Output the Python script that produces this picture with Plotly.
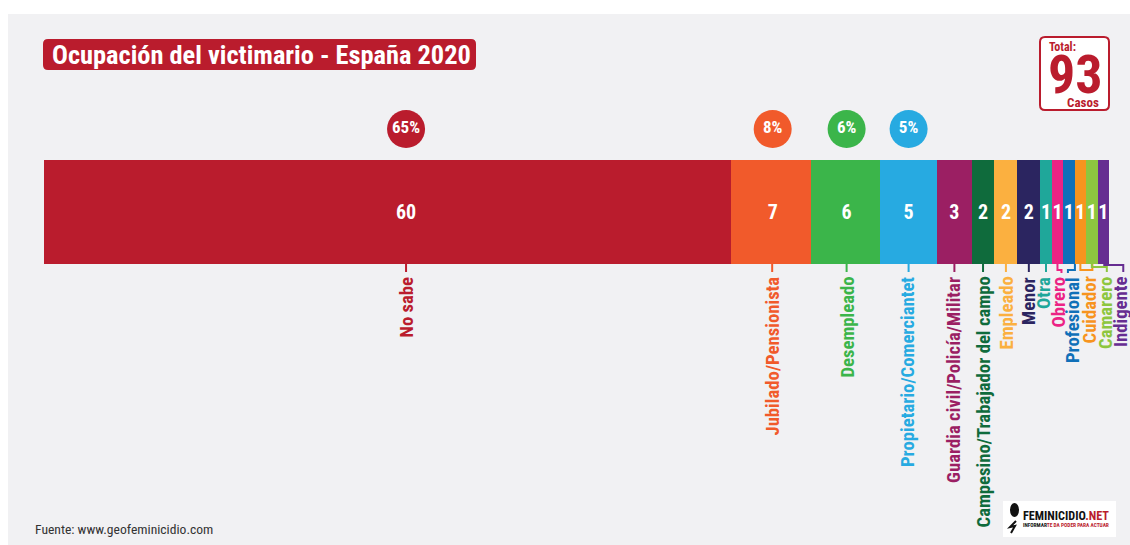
import plotly.graph_objects as go

W, H = 1130, 545
FONT = "Roboto Condensed, Roboto"

categories = ["No sabe", "Jubilado/Pensionista", "Desempleado", "Propietario/Comerciantet",
              "Guardia civil/Policía/Militar", "Campesino/Trabajador del campo", "Empleado",
              "Menor", "Otra", "Obrero", "Profesional", "Cuidador", "Camarero", "Indigente"]
values = [60, 7, 6, 5, 3, 2, 2, 2, 1, 1, 1, 1, 1, 1]
percents = ["65%", "8%", "6%", "5%"]
colors = ["#BA1C2D", "#F15A2B", "#3BB54A", "#27AAE1", "#9B1F63", "#0F6B3C", "#FBB040",
          "#2B2560", "#1FA79A", "#EC2384", "#1070B8", "#F7941E", "#8DC63F", "#662D91"]
label_x = [406, 772, 847, 908, 954, 983, 1006, 1029, 1044, 1058, 1073, 1089, 1106, 1121]
text_shift = [18.5, 1.5, 1, 0, 0, 0, 0, 0, 0, 0, 0, 0, 0, 0]
# leader waypoints, relative to bar centre (px) / below the bar (px)
leaders = [[(18.5, 0), (18.5, 8)], [(1, 0), (1, 8)], [(1, 0), (1, 8)], [(0, 0), (0, 8)],
           [(0, 0), (0, 8)], [(0, 0), (0, 8)], [(0, 0), (0, 8)], [(0, 0), (0, 8)],
           [(0, 0), (0, 8)], [(0, 0), (0, 6), (4, 6), (4, 9)],
           [(6, 0), (6, 6), (-1, 6), (-1, 9)], [(0, 0), (0, 6), (12, 6), (12, 0)],
           [(0, 0), (0, 3), (15, 3), (15, 8)], [(0, 1), (20, 1), (20, 8)]]

BAR_L, BAR_R, BAR_T, BAR_B = 44, 1109, 160, 264
scale = (BAR_R - BAR_L) / sum(values)

def fx(px): return px / W
def fy(py): return 1 - py / H

def rrect(x0, y0, x1, y1, r):
    a, b, c, d = fx(x0), fy(y0), fx(x1), fy(y1)
    rx, ry = r / W, r / H
    return (f"M{a+rx},{b} L{c-rx},{b} Q{c},{b} {c},{b-ry} L{c},{d+ry} Q{c},{d} {c-rx},{d} "
            f"L{a+rx},{d} Q{a},{d} {a},{d+ry} L{a},{b-ry} Q{a},{b} {a+rx},{b} Z")

centers, acc = [], 0
for v in values:
    centers.append(acc + v / 2)
    acc += v
text_x = [c + s / scale for c, s in zip(centers, text_shift)]

fig = go.Figure()
for name, v, c in zip(categories, values, colors):
    fig.add_trace(go.Bar(x=[v], y=[0], name=name, orientation="h", marker=dict(color=c, line_width=0),
                         width=1, hoverinfo="name+x"))
fig.add_trace(go.Scatter(x=text_x, y=[-0.02] * len(values), mode="text", text=[str(v) for v in values],
                         textfont=dict(family=FONT, size=20, color="white", weight="bold"),
                         textposition="middle center", hoverinfo="skip"))
n = len(percents)
fig.add_trace(go.Scatter(x=[text_x[i] for i in range(n)], y=[0] * n, yaxis="y2", mode="markers+text",
                         marker=dict(size=38, color=colors[:n], line_width=0), text=percents,
                         textfont=dict(family=FONT, size=17, color="white", weight="bold"),
                         textposition="middle center", hoverinfo="skip"))

shapes = [dict(type="rect", xref="paper", yref="paper", x0=fx(8), x1=1, y0=0, y1=fy(14),
               fillcolor="#F1F1F3", line_width=0, layer="below"),
          dict(type="path", xref="paper", yref="paper", path=rrect(43, 39, 476, 70, 5),
               fillcolor="#BA1C2D", line_width=0, layer="below"),
          dict(type="path", xref="paper", yref="paper", path=rrect(1040, 37, 1109, 110, 5),
               fillcolor="white", line=dict(color="#BA1C2D", width=2), layer="below"),
          dict(type="rect", xref="paper", yref="paper", x0=fx(1003), x1=fx(1116), y0=fy(537), y1=fy(501),
               fillcolor="white", line_width=0, layer="below"),
          dict(type="circle", xref="paper", yref="paper", x0=fx(1010), x1=fx(1019), y0=fy(517), y1=fy(503),
               fillcolor="#111111", line_width=0),
          dict(type="path", xref="paper", yref="paper",
               path=f"M{fx(1016)},{fy(521)} L{fx(1010)},{fy(527)} L{fx(1015)},{fy(526)} L{fx(1011)},{fy(533)}",
               line=dict(color="#111111", width=2))]
for i, pts in enumerate(leaders):
    path = ""
    for j, (dx, dy) in enumerate(pts):
        path += f"{'M' if j == 0 else 'L'}{(centers[i] * scale + BAR_L + dx) / W},{fy(BAR_B + dy)} "
    shapes.append(dict(type="path", xref="paper", yref="paper", path=path,
                       line=dict(color=colors[i], width=2), layer="above"))

annotations = []
for name, lx, c in zip(categories, label_x, colors):
    annotations.append(dict(xref="paper", yref="paper", x=fx(lx), y=fy(275), text=name, textangle=-90,
                            showarrow=False, xanchor="center", yanchor="top",
                            font=dict(family=FONT, size=18.7, color=c, weight="bold")))

def note(x, y, text, size, color, xanchor="center", bold=True, family=FONT):
    annotations.append(dict(xref="paper", yref="paper", x=fx(x), y=fy(y), text=text, showarrow=False,
                            xanchor=xanchor, yanchor="middle",
                            font=dict(family=family, size=size, color=color, weight="bold" if bold else "normal")))

note(261, 55, "Ocupación del victimario - España 2020", 26.4, "white")
note(1047, 47, "Total:", 12, "#BA1C2D", "left")
note(1075, 74, "93", 54, "#BA1C2D")
note(1101, 102, "Casos", 13, "#BA1C2D", "right")
note(33, 529, "Fuente: www.geofeminicidio.com", 13.6, "#333333", "left", False)
note(1021, 516, 'FEMINICIDIO<span style="color:#BA1C2D">.NET</span>', 12.2, "#111111", "left")
note(1021, 525, 'INFORMAR<span style="color:#BA1C2D">TE DA PODER PARA ACTUAR</span>', 5.4, "#111111", "left")

fig.update_layout(
    width=W, height=H, margin=dict(l=0, r=0, t=0, b=0), autosize=False,
    paper_bgcolor="white", plot_bgcolor="rgba(0,0,0,0)", showlegend=False,
    barmode="stack", bargap=0, shapes=shapes, annotations=annotations,
    xaxis=dict(range=[-BAR_L / scale, (W - BAR_L) / scale], domain=[0, 1], visible=False, fixedrange=True),
    yaxis=dict(domain=[fy(BAR_B), fy(BAR_T)], range=[-0.5, 0.5], visible=False, fixedrange=True),
    yaxis2=dict(domain=[fy(148), fy(110)], range=[-0.5, 0.5], visible=False, fixedrange=True),
)
post = """
document.body.style.margin='0';document.documentElement.style.overflow='hidden';
var st=document.createElement('style');st.textContent='svg text{font-stretch:75%}';document.head.appendChild(st);
var gd=document.getElementById('{plot_id}');Plotly.relayout(gd,{'title.text':''});
"""
fig.write_html("out.html", config={"displayModeBar": False}, post_script=post)
